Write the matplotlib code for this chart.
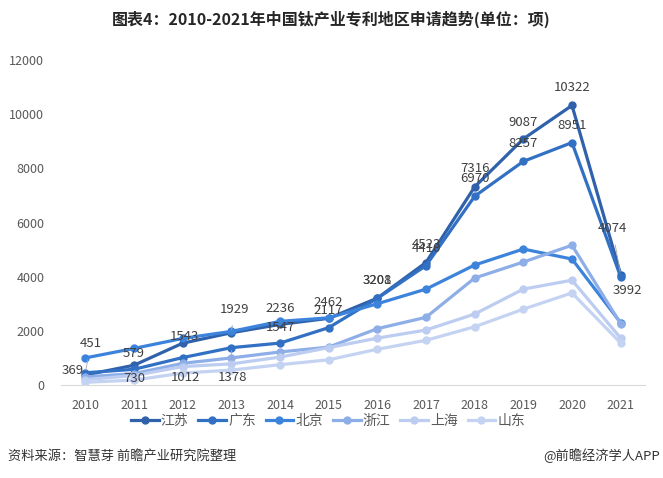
import matplotlib.pyplot as plt

plt.rcParams['font.family'] = ['Noto Sans CJK SC', 'DejaVu Sans']

years = ['2010', '2011', '2012', '2013', '2014', '2015',
         '2016', '2017', '2018', '2019', '2020', '2021']
regions = ['江苏', '广东', '北京', '浙江', '上海', '山东']

jiangsu = [369, 730, 1543, 1929, 2236, 2462, 3208, 4523, 7316, 9087, 10322, 4074]
guangdong = [451, 579, 1012, 1378, 1547, 2117, 3201, 4410, 6970, 8257, 8951, 3992]
beijing = [1000, 1350, 1720, 1980, 2350, 2480, 3000, 3540, 4430, 5020, 4650, 2300]
zhejiang = [300, 420, 800, 1000, 1220, 1400, 2080, 2500, 3950, 4540, 5160, 2260]
shanghai = [200, 350, 680, 780, 1030, 1380, 1730, 2030, 2620, 3540, 3870, 1730]
shandong = [100, 180, 440, 550, 750, 930, 1320, 1650, 2150, 2800, 3400, 1550]

series = [jiangsu, guangdong, beijing, zhejiang, shanghai, shandong]
colors = ['#2f62aa', '#3270c4', '#3c83dc', '#8eaee8', '#bccdf1', '#c4d3f2']

# label offsets in points (label text centre relative to the point)
jiangsu_offsets = [(-9, 3), (0, -9.5), (1.5, 4.5), (2, 17), (0, 11.5), (0, 11.5),
                   (0, 13), (0, 13), (0, 13), (0, 12), (0, 13), (-6, 33)]
guangdong_offsets = [(4, 21), (0, 11.5), (2, -14.5), (1, -21.5), (0, 11.5), (0, 12),
                     (0, 13), (0, 12), (0, 13), (0, 13), (0, 12), (4.5, -9.5)]

fig = plt.figure(figsize=(6.63, 4.78), dpi=100)
ax = fig.add_axes([61 / 663, 93 / 478, 584 / 663, 325 / 478])

x = list(range(len(years)))
for name, values, color in zip(regions, series, colors):
    ax.plot(x, values, color=color, lw=2.3, marker='o', markersize=5,
            label=name, solid_joinstyle='round')

for values, offsets in ((jiangsu, jiangsu_offsets), (guangdong, guangdong_offsets)):
    for xi, v, (dx, dy) in zip(x, values, offsets):
        leader = abs(dy) > 14
        ax.annotate(str(v), (xi, v), xytext=(dx, dy), textcoords='offset points',
                    ha='center', va='center', fontsize=9.5, color='#404040',
                    arrowprops=dict(arrowstyle='-', color='#a6a6a6', lw=0.6,
                                    shrinkA=5, shrinkB=2) if leader else None)

ax.set_xlim(-0.5, len(years) - 0.5)
ax.set_ylim(0, 12000)
ax.set_yticks(range(0, 12001, 2000))
ax.set_xticks(x, labels=years)
ax.tick_params(axis='both', length=0, labelsize=9, colors='#595959')
ax.tick_params(axis='y', pad=12)
ax.tick_params(axis='x', pad=10)
for side in ('top', 'right', 'left'):
    ax.spines[side].set_visible(False)
ax.spines['bottom'].set_color('#d9d9d9')

ax.legend(loc='center', bbox_to_anchor=(328 / 663, 1 - 421 / 478),
          bbox_transform=fig.transFigure, ncol=6, frameon=False,
          fontsize=10, handlelength=2.0, handletextpad=0.15, columnspacing=0.7,
          labelcolor='#595959')

fig.text(0.5, 1 - 19 / 478, '图表4：2010-2021年中国钛产业专利地区申请趋势(单位：项)',
         ha='center', va='center', fontsize=11.5, fontweight='bold', color='#262626')
fig.text(8 / 663, 1 - 456 / 478, '资料来源：智慧芽 前瞻产业研究院整理',
         ha='left', va='center', fontsize=9.5, color='#333333')
fig.text(660 / 663, 1 - 456 / 478, '@前瞻经济学人APP',
         ha='right', va='center', fontsize=9.5, color='#333333')

fig.savefig('out.png', dpi=100)
